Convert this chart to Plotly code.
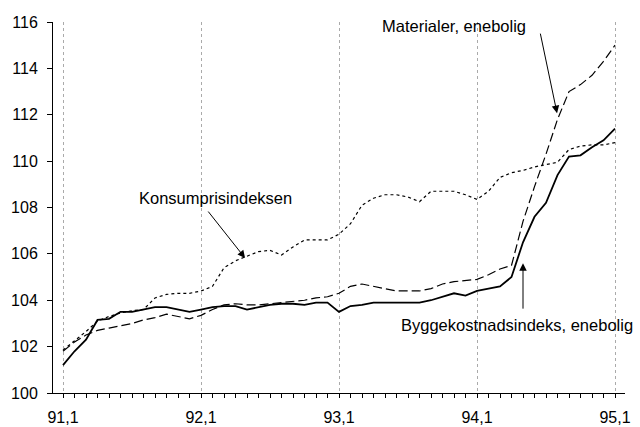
import plotly.graph_objects as go

months = list(range(49))  # 0 = 91,1 ... 48 = 95,1

bygg = [101.2, 101.8, 102.3, 103.15, 103.2, 103.5, 103.5, 103.6, 103.7, 103.7,
        103.6, 103.5, 103.6, 103.7, 103.75, 103.75, 103.6, 103.7, 103.8, 103.85,
        103.85, 103.8, 103.9, 103.9, 103.5, 103.75, 103.8, 103.9, 103.9, 103.9,
        103.9, 103.9, 104.0, 104.15, 104.3, 104.2, 104.4, 104.5, 104.6, 105.0,
        106.5, 107.6, 108.2, 109.4, 110.2, 110.25, 110.6, 110.9, 111.4]

materialer = [101.8, 102.2, 102.5, 102.7, 102.8, 102.9, 103.0, 103.15, 103.25, 103.4,
              103.3, 103.2, 103.35, 103.6, 103.8, 103.85, 103.8, 103.8, 103.85, 103.9,
              103.95, 104.0, 104.1, 104.15, 104.3, 104.6, 104.7, 104.6, 104.5, 104.4,
              104.4, 104.4, 104.5, 104.7, 104.8, 104.85, 104.9, 105.1, 105.35, 105.5,
              107.4, 108.9, 110.3, 111.8, 113.0, 113.3, 113.7, 114.3, 115.0]

konsum = [101.85, 102.25, 102.65, 103.1, 103.3, 103.45, 103.55, 103.6, 104.1, 104.25,
          104.3, 104.3, 104.4, 104.6, 105.4, 105.7, 105.9, 106.1, 106.15, 105.95,
          106.3, 106.6, 106.6, 106.6, 106.85, 107.3, 108.1, 108.4, 108.55, 108.55,
          108.45, 108.25, 108.7, 108.7, 108.7, 108.55, 108.35, 108.7, 109.3, 109.5,
          109.6, 109.75, 109.85, 109.95, 110.5, 110.65, 110.7, 110.7, 110.8]

year_ticks = [0, 12, 24, 36, 48]
year_labels = ["91,1", "92,1", "93,1", "94,1", "95,1"]
y_ticks = [100, 102, 104, 106, 108, 110, 112, 114, 116]

labels = ["Materialer, enebolig", "Konsumprisindeksen", "Byggekostnadsindeks, enebolig"]

FONT = "Liberation Sans, Arial, sans-serif"

fig = go.Figure()
fig.add_trace(go.Scatter(x=months, y=konsum, mode="lines",
                         line=dict(color="black", width=1.2, dash="3px,3px")))
fig.add_trace(go.Scatter(x=months, y=materialer, mode="lines",
                         line=dict(color="black", width=1.2, dash="9px,4px")))
fig.add_trace(go.Scatter(x=months, y=bygg, mode="lines",
                         line=dict(color="black", width=1.8)))

arrow = dict(text="", showarrow=True, arrowhead=2, arrowsize=1.5, arrowwidth=1,
             arrowcolor="black", axref="pixel", ayref="pixel")

# arrows (tip on the series, tail offset in pixels)
fig.add_annotation(x=42.96, y=112.07, ax=-17, ay=-81, **arrow)
fig.add_annotation(x=15.83, y=105.82, ax=-38, ay=-48, **arrow)
fig.add_annotation(x=40.0, y=105.6, ax=0, ay=47, **arrow)

txt = dict(showarrow=False, xanchor="center", yanchor="middle",
           font=dict(family=FONT, size=16.5, color="black"))
fig.add_annotation(x=33.96, y=115.83, text=labels[0], **txt)
fig.add_annotation(x=13.22, y=108.41, text=labels[1], **txt)
fig.add_annotation(x=39.52, y=102.93, text=labels[2], **txt)

fig.update_layout(
    width=640, height=427,
    margin=dict(l=53, r=15, t=22, b=34),
    paper_bgcolor="white", plot_bgcolor="white",
    showlegend=False,
    font=dict(family=FONT, size=16, color="black"),
    xaxis=dict(range=[-0.87, 48.87], tickmode="array", tickvals=year_ticks,
               ticktext=year_labels, showgrid=True, gridcolor="#aaaaaa",
               griddash="dot", gridwidth=1, zeroline=False, automargin=False,
               showline=True, linecolor="black", linewidth=1,
               ticks="outside", ticklen=4, tickcolor="black",
               ticklabelstandoff=6,
               minor=dict(tickmode="linear", tick0=0, dtick=1, ticks="outside",
                          ticklen=4, tickcolor="black", showgrid=False),
               tickfont=dict(family=FONT, size=16)),
    yaxis=dict(range=[100, 116], tickvals=y_ticks, showgrid=False, zeroline=False,
               automargin=False,
               showline=True, linecolor="black", linewidth=1,
               ticks="outside", ticklen=5, tickcolor="black",
               ticklabelstandoff=6,
               tickfont=dict(family=FONT, size=16)),
)

fig.write_html("out.html", config={"displayModeBar": False},
               post_script="document.body.style.margin='0';document.body.style.padding='0';")
